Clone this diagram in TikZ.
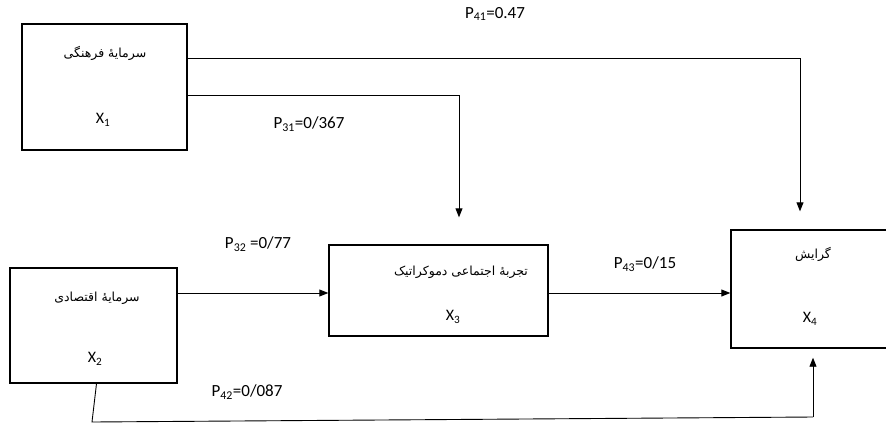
\documentclass[tikz,border=0pt]{standalone}
\usepackage{fontspec}
\setmainfont{Carlito}
\newfontfamily\arabicfont[Script=Arabic]{DejaVu Sans}
\TeXXeTstate=1
\usetikzlibrary{arrows.meta,calc}
\tikzset{
  box/.style={draw,line width=1.4pt,inner sep=0pt},
  conn/.style={line width=0.9pt,-{Triangle[length=9pt,width=7pt]}},
  plain/.style={line width=0.9pt},
  lbl/.style={font=\fontsize{17}{18}\selectfont,inner sep=0pt},
  ar/.style={font=\arabicfont\fontsize{12.5}{14}\selectfont,inner sep=1pt},
  xl/.style={font=\fontsize{16}{17}\selectfont,inner sep=0pt}
}
\newcommand\rw[1]{\beginR #1\endR}
\begin{document}
\begin{tikzpicture}[x=1pt,y=-1pt]
\clip (0,0) rectangle (886,424);
\fill[white] (0,0) rectangle (886,424);
% boxes
\node[box,minimum width=165pt,minimum height=126pt] (x1) at (104.5,87) {};
\node[box,minimum width=167pt,minimum height=115pt] (x2) at (93.5,325.5) {};
\node[box,minimum width=219pt,minimum height=91pt] (x3) at (438.5,290.5) {};
\node[box,minimum width=170pt,minimum height=118pt] (x4) at (816,289) {};
% box texts (RTL: words placed right to left)
\node[ar] (t1) at (105,53) {\rw{فرهنگی} \rw{سرمایهٔ}};
\node[xl] (s1) at (103,120) {X\textsubscript{1}};
\node[ar] (t2) at (97,298) {\rw{اقتصادی} \rw{سرمایهٔ}};
\node[xl] (s2) at (95,359) {X\textsubscript{2}};
\node[ar] (t3) at (461,272) {\rw{دموکراتیک} \rw{اجتماعی} \rw{تجربهٔ}};
\node[xl] (s3) at (453,317) {X\textsubscript{3}};
\node[ar] (t4) at (813,254) {\rw{گرایش}};
\node[xl] (s4) at (810,319) {X\textsubscript{4}};
% connector helper coordinates
\coordinate (c41) at (800,58);
\coordinate (c31) at (459,95);
\coordinate (c32) at (0,293);
\coordinate (b1) at (92,422);
\coordinate (b2) at (813,417);
% connectors
\draw[conn,shorten >=18pt] (x1.east |- c41) -- (c41) -- (c41 |- x4.north);
\draw[conn,shorten >=27pt] (x1.east |- c31) -- (c31) -- (c31 |- x3.north);
\draw[conn] (x2.east |- c32) -- (x3.west |- c32);
\draw[conn] (x3.east |- c32) -- (x4.west |- c32);
\draw[plain] ($(x2.south)+(3,0)$) -- (b1) -- (b2);
\draw[conn,shorten >=9pt] (b2) -- (b2 |- x4.south);
% labels
\node[lbl] (p41) at (495,14) {P\textsubscript{41}=0.47};
\node[lbl] (p31) at (309,124) {P\textsubscript{31}=0/367};
\node[lbl] (p32) at (258,244) {P\textsubscript{32} =0/77};
\node[lbl] (p43) at (645,264) {P\textsubscript{43}=0/15};
\node[lbl] (p42) at (247,392) {P\textsubscript{42}=0/087};
\end{tikzpicture}
\end{document}
